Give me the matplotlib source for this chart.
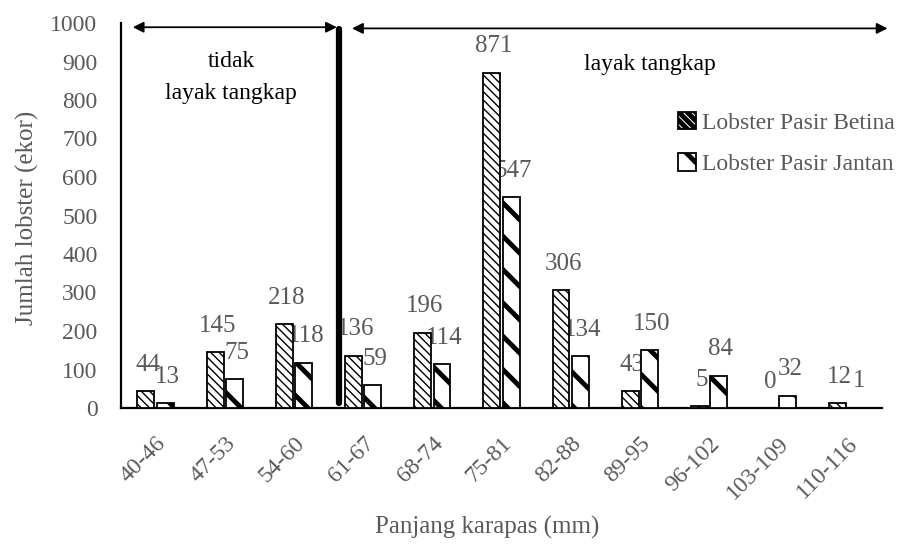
import numpy as np
import matplotlib
matplotlib.use('Agg')
import matplotlib.pyplot as plt

categories = ['40-46', '47-53', '54-60', '61-67', '68-74', '75-81',
              '82-88', '89-95', '96-102', '103-109', '110-116']
betina = [44, 145, 218, 136, 196, 871, 306, 43, 5, 0, 12]
jantan = [13, 75, 118, 59, 114, 547, 134, 150, 84, 32, 1]
series_names = ['Lobster Pasir Betina', 'Lobster Pasir Jantan']

GREY = '#595959'
plt.rcParams['font.family'] = ['Liberation Serif', 'DejaVu Serif']

fig = plt.figure(figsize=(9.06, 5.46), dpi=100)
ax = fig.add_axes([121 / 906, 1 - 408 / 546, (882 - 121) / 906, (408 - 23) / 546])

x = np.arange(len(categories))
w = 0.245
off = 0.14


def hatched_bars(xs, vals, hatch, hlw, label):
    bars = ax.bar(xs, vals, w, color='white', edgecolor='black',
                  linewidth=1.3, hatch=hatch, label=label, zorder=3)
    for b in bars:
        if hasattr(b, 'set_hatch_linewidth'):
            b.set_hatch_linewidth(hlw)
    return bars


plt.rcParams['hatch.linewidth'] = 1.0
b1 = hatched_bars(x - off, betina, '\\\\\\\\', 1.0, series_names[0])
plt.rcParams['hatch.linewidth'] = 3.5
b2 = hatched_bars(x + off, jantan, '\\', 3.5, series_names[1])

# value labels (drawn behind the bars, as in the original)
for xs, vals in ((x - off, betina), (x + off, jantan)):
    for xi, v in zip(xs, vals):
        ax.annotate(str(v), (xi, v), xytext=(1.5, 19), textcoords='offset points',
                    ha='center', va='center', fontsize=18, color=GREY, zorder=1)

ax.set_xlim(-0.5, len(categories) - 0.5)
ax.set_ylim(0, 1000)
ax.set_yticks(np.arange(0, 1001, 100))
ax.set_xticks(x)
ax.set_xticklabels(categories, rotation=45, ha='right', va='top',
                   rotation_mode='anchor')
ax.tick_params(axis='both', length=0, labelcolor=GREY)
ax.tick_params(axis='y', pad=17, labelsize=17)
ax.tick_params(axis='x', pad=18, labelsize=17)

for s in ('top', 'right'):
    ax.spines[s].set_visible(False)
ax.spines['left'].set_linewidth(1.6)
ax.spines['bottom'].set_linewidth(1.6)

fig.text(27 / 906, 1 - 218 / 546, 'Jumlah lobster (ekor)', rotation=90,
         ha='center', va='center', fontsize=18, color=GREY)
fig.text(487 / 906, 1 - 527 / 546, 'Panjang karapas (mm)',
         ha='center', va='center', fontsize=18, color=GREY)

# boundary line between "tidak layak" and "layak tangkap"
ax.plot([2.65, 2.65], [14, 985], color='black', linewidth=4.5,
        solid_capstyle='round', zorder=5)

arrow = dict(arrowstyle='<|-|>', color='black', lw=1.3, mutation_scale=16,
             shrinkA=0, shrinkB=0)
ax.annotate('', xy=(-0.33, 989), xytext=(2.62, 989), arrowprops=arrow,
            annotation_clip=False)
ax.annotate('', xy=(2.84, 986), xytext=(10.58, 986), arrowprops=arrow,
            annotation_clip=False)

ax.text(1.10, 899, 'tidak', ha='center', va='center', fontsize=17)
ax.text(1.09, 818, 'layak tangkap', ha='center', va='center', fontsize=17)
ax.text(7.14, 891, 'layak tangkap', ha='center', va='center', fontsize=17)

leg = fig.legend(loc='upper left', bbox_to_anchor=(678 / 906, 1 - 112 / 546),
                 frameon=False, fontsize=17, handlelength=0.75, handleheight=0.75,
                 handletextpad=0.25, labelspacing=0.82, borderaxespad=0,
                 borderpad=0)
for t in leg.get_texts():
    t.set_color(GREY)

fig.savefig('out.png', dpi=100)
